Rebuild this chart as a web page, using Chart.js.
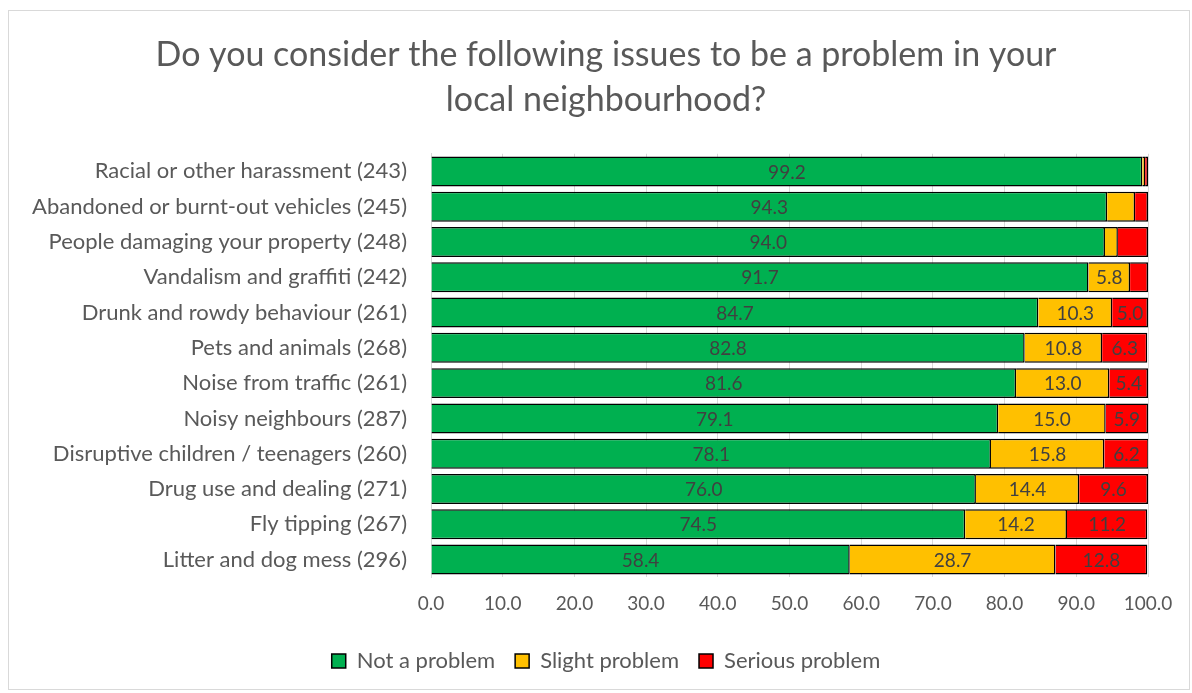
<!DOCTYPE html>
<html lang="en">
<head>
    <meta charset="UTF-8">
    <title>Neighbourhood problems</title>
    <script src="https://cdn.jsdelivr.net/npm/chart.js@4.4.1/dist/chart.umd.min.js"></script>
    <style>
        body { margin: 0; background: #fff; }
        #box {
            position: absolute; left: 8px; top: 10px;
            width: 1182px; height: 680px;
            border: 1px solid #d9d9d9; box-sizing: border-box;
        }
    </style>
</head>
<body>
<div id="box"><canvas id="issues" width="1180" height="678"></canvas></div>
<script>
    var issues = [
        "Racial or other harassment (243)",
        "Abandoned or burnt-out vehicles (245)",
        "People damaging your property (248)",
        "Vandalism and graffiti (242)",
        "Drunk and rowdy behaviour (261)",
        "Pets and animals (268)",
        "Noise from traffic (261)",
        "Noisy neighbours (287)",
        "Disruptive children / teenagers (260)",
        "Drug use and dealing (271)",
        "Fly tipping (267)",
        "Litter and dog mess (296)"
    ];
    var notProblem = [99.2, 94.3, 94.0, 91.7, 84.7, 82.8, 81.6, 79.1, 78.1, 76.0, 74.5, 58.4];
    var slightProblem = [0.4, 3.9, 1.8, 5.8, 10.3, 10.8, 13.0, 15.0, 15.8, 14.4, 14.2, 28.7];
    var seriousProblem = [0.4, 1.8, 4.2, 2.5, 5.0, 6.3, 5.4, 5.9, 6.2, 9.6, 11.2, 12.8];
    var xTicks = [0, 10, 20, 30, 40, 50, 60, 70, 80, 90, 100];

    var FONT = "Lato, 'Open Sans', sans-serif";
    var TEXT = "#595959";

    // draws value labels in the middle of each segment (small ones skipped)
    var segmentLabels = {
        id: 'segmentLabels',
        afterDatasetsDraw: function (chart) {
            var ctx = chart.ctx;
            ctx.save();
            ctx.font = "19px " + FONT;
            ctx.fillStyle = "#404040";
            ctx.textAlign = "center";
            ctx.textBaseline = "middle";
            chart.data.datasets.forEach(function (ds, i) {
                chart.getDatasetMeta(i).data.forEach(function (bar, j) {
                    var v = ds.data[j];
                    if (v < 5) return;
                    var cx = (bar.x + bar.base) / 2;
                    ctx.fillText(v.toFixed(1), cx, bar.y + 1);
                });
            });
            ctx.restore();
        }
    };

    // title and legend sit a little right of the canvas centre in the original
    var nudgeCentred = {
        id: 'nudgeCentred',
        afterLayout: function (chart) {
            if (chart.titleBlock) chart.titleBlock.left += 55;
            if (chart.legend) chart.legend.left += 55;
        }
    };

    var config = {
        type: 'bar',
        data: {
            labels: issues,
            datasets: [{
                label: 'Not a problem',
                data: notProblem,
                backgroundColor: '#00b050',
                borderColor: '#000000',
                borderWidth: 1.5
            }, {
                label: 'Slight problem',
                data: slightProblem,
                backgroundColor: '#ffc000',
                borderColor: '#000000',
                borderWidth: 1.5
            }, {
                label: 'Serious problem',
                data: seriousProblem,
                backgroundColor: '#ff0000',
                borderColor: '#000000',
                borderWidth: 1.5
            }]
        },
        options: {
            indexAxis: 'y',
            responsive: false,
            animation: false,
            layout: { padding: { left: 0, right: 41, top: 14, bottom: 7 } },
            datasets: { bar: { barPercentage: 0.85, categoryPercentage: 1.0 } },
            scales: {
                x: {
                    stacked: true,
                    min: 0,
                    max: 100,
                    afterBuildTicks: function (axis) {
                        axis.ticks = xTicks.map(function (v) { return { value: v }; });
                    },
                    ticks: {
                        color: TEXT,
                        font: { family: FONT, size: 19 },
                        padding: 15,
                        callback: function (v) { return Number(v).toFixed(1); }
                    },
                    grid: { color: '#d9d9d9', drawTicks: false },
                    border: { display: false }
                },
                y: {
                    stacked: true,
                    ticks: {
                        color: TEXT,
                        font: { family: FONT, size: 22 },
                        padding: 16
                    },
                    grid: { display: false },
                    border: { color: '#d9d9d9' },
                    afterFit: function (scale) { scale.width = 422; }
                }
            },
            plugins: {
                title: {
                    display: true,
                    text: ["Do you consider the following issues to be a problem in your", "local neighbourhood?"],
                    color: TEXT,
                    font: { family: FONT, size: 34, weight: 'normal', lineHeight: 1.32 },
                    padding: { top: 8, bottom: 31 }
                },
                legend: {
                    position: 'bottom',
                    labels: {
                        color: TEXT,
                        font: { family: FONT, size: 22 },
                        boxWidth: 14,
                        boxHeight: 14,
                        padding: 20
                    }
                },
                tooltip: { enabled: false }
            }
        },
        plugins: [segmentLabels, nudgeCentred]
    };

    window.onload = function () {
        var ctx = document.getElementById("issues").getContext("2d");
        window.issueChart = new Chart(ctx, config);
    };
</script>
</body>
</html>
